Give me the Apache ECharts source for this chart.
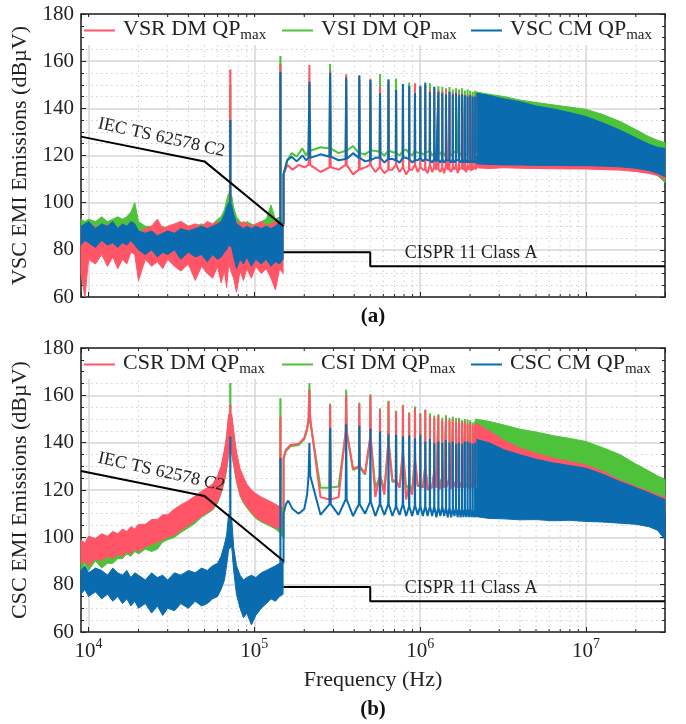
<!DOCTYPE html>
<html>
<head>
<meta charset="utf-8">
<script src="https://cdn.jsdelivr.net/npm/echarts@6.0.0/dist/echarts.min.js"></script>
<style>
html, body { margin: 0; padding: 0; background: #fff; }
#chart { width: 686px; height: 724px; }
</style>
</head>
<body>
<div id="chart"></div>
<script>
const FONT = 'Liberation Serif';
const INK = '#222';
const RED = '#ff5566';
const GREEN = '#4dc23a';
const BLUE = '#0a6caf';

// ---- frequencies in kHz ----
// envelope of the noisy spectrum below 150 kHz
const lowFreq = [9, 9.5, 10, 11, 12, 13, 14, 15, 16, 17, 18, 19, 20, 22, 24, 26, 28, 30, 33, 36,
    40, 44, 48, 52, 56, 60, 63, 66, 68, 70, 73, 75, 78, 82, 86, 90, 96, 102, 110, 118, 126, 134, 142, 149];
// dense harmonic band above ~2 MHz
const denseFreq = [2150, 2600, 3200, 4000, 5000, 6300, 8000, 10000, 12500, 16000, 20000, 24000, 27000, 30000];
// switching harmonics drawn one by one (150 kHz .. 2.15 MHz)
const fsw = 71.6;
const harmonicOrder = [3, 4, 5, 6, 7, 8, 9, 10, 11, 12, 13, 14, 15, 16, 17, 18, 19, 20, 21, 22,
    23, 24, 25, 26, 27, 28, 29, 30];
const spikeHalfWidth = 2.5;

// x minor grid / tick positions (Hz)
const xMinorTicks = [2e4, 3e4, 4e4, 5e4, 6e4, 7e4, 8e4, 9e4, 2e5, 3e5, 4e5, 5e5, 6e5, 7e5, 8e5, 9e5,
    2e6, 3e6, 4e6, 5e6, 6e6, 7e6, 8e6, 9e6, 2e7];

// limit lines
const iecFreq = [9, 50, 150];
const iecLimit = [128, 117.5, 90];
const cisprFreq = [150, 500, 500, 30000];
const cisprLimit = [79, 79, 73, 73];

// ===== (a) VSC =====
const vsrLo = [70, 60, 76, 74, 78, 73, 77, 72, 76, 74, 79, 78, 67, 76, 73, 75, 72, 76, 73, 71,
    74, 67, 73, 70, 68, 73, 66, 71, 64, 74, 70, 68, 62, 71, 67, 72, 68, 73, 70, 72, 68, 63, 72, 70];
const vsrHi = [90, 87, 89, 90, 89, 91, 88, 90, 89, 90, 88, 89, 87, 89, 90, 93, 89, 90, 91, 92,
    90, 91, 90, 92, 91, 92, 91, 93, 95, 97, 97, 94, 92, 91, 92, 91, 90, 91, 92, 90, 91, 92, 92, 90];
const vsiLo = [84, 83, 85, 84, 85, 84, 85, 84, 85, 84, 86, 86, 82, 81, 82, 80, 81, 80, 81, 80,
    81, 80, 81, 80, 81, 82, 82, 84, 86, 88, 88, 85, 81, 80, 79, 80, 79, 80, 79, 80, 79, 80, 80, 80];
const vsiHi = [93, 92, 93, 92, 94, 92, 93, 94, 93, 94, 96, 100, 92, 90, 90, 89, 90, 89, 90, 92,
    90, 90, 91, 90, 91, 93, 94, 97, 101, 104, 103, 98, 94, 92, 91, 92, 91, 90, 92, 93, 99, 93, 94, 91];
const vscLo = [82, 84, 83, 81, 84, 82, 83, 81, 83, 82, 84, 82, 80, 78, 80, 77, 79, 78, 80, 76,
    79, 77, 78, 75, 78, 76, 77, 79, 80, 82, 81, 77, 72, 76, 74, 77, 73, 76, 74, 76, 73, 75, 74, 76];
const vscHi = [90, 91, 92, 89, 91, 90, 92, 89, 91, 90, 92, 91, 88, 87, 88, 86, 87, 88, 87, 89,
    88, 89, 90, 89, 90, 91, 92, 95, 98, 100, 99, 95, 91, 90, 89, 90, 89, 90, 89, 90, 89, 90, 92, 91];

// [kHz, foot, top] of the 1st and 2nd harmonic
const vsrSpikes = [[71.6, 96, 156.5], [143.6, 91, 158.8]];
const vsiSpikes = [[71.6, 103, 150], [143.6, 93, 162.2]];
const vscSpikes = [[71.6, 99, 135], [143.6, 91, 155.5]];

const vsrStart = [[150, 90], [150, 112], [158, 116], [170, 114], [185, 116], [200, 115]];
const vsrPeak = [158.4, 156, 154.4, 154, 152.7, 149.2, 152, 148, 150, 149, 150.6, 149, 150, 148,
    148, 148, 147, 148, 147, 146.5, 147.5, 146, 146.5, 145, 146, 145.5, 144.5, 145.5];
const vsrBase = [116, 115, 116, 114, 116, 115, 114, 116, 115, 114, 116, 115, 114, 116, 115, 114,
    115, 116, 114, 115, 116, 114, 115, 114, 116, 115, 114, 115];
const vsrValley = [113, 114, 112, 115, 113, 112.5, 114, 113, 112, 114, 113, 114, 112.5, 113, 114,
    113, 112.5, 114, 113, 114, 112.5, 113.5, 114, 113, 114, 113.5, 114, 114];

const vsiStart = [[150, 92], [150, 112], [158, 118], [168, 121], [180, 119.5], [195, 123], [205, 120]];
const vsiPeak = [150, 158.8, 152, 152, 151, 154.6, 151, 152.7, 149, 151, 149, 149, 150, 150.6,
    149, 149.5, 149, 148.5, 149, 148, 148.5, 148, 148.5, 147.5, 148, 147.5, 147, 147.5];
const vsiBase = [122, 123, 122, 121, 122, 121.5, 122, 121, 122, 121, 122, 121.5, 121, 122, 121,
    121.5, 122, 121, 121.5, 121, 122, 121, 121.5, 121, 121, 121.5, 121, 121];
const vsiValley = [123.5, 121, 124, 120.5, 122, 120, 121.5, 120, 122.5, 120, 121, 120.5, 121.5,
    120, 121, 120.5, 120, 121, 120, 120.5, 121, 120, 120.5, 120, 120.5, 120, 120, 120];

const vscStart = [[150, 91], [150, 112], [158, 118], [168, 119.5], [180, 117.5], [195, 120], [205, 118]];
const vscPeak = [151.3, 155.1, 153.1, 153.9, 152, 146.4, 152.3, 147.8, 150.3, 149.6, 146.4, 149.6,
    151, 147, 149.2, 147, 146.5, 146, 147, 146, 146.5, 145.5, 146, 145.5, 145, 145.5, 145, 145];
const vscBase = [119, 119.5, 118.5, 119, 118, 119, 118.5, 118, 119, 118.5, 118, 119, 118.5, 118,
    118.5, 118, 118.5, 118, 118, 118.5, 118, 118, 118, 118.5, 118, 118, 118, 118];
const vscValley = [120.5, 118, 121, 117.5, 119, 117, 118.5, 117, 119, 117, 118, 117.5, 118, 117,
    117.5, 117, 117, 117.5, 117, 117, 117.5, 117, 117, 117, 117, 117, 117, 117];

const vsiDenseLo = [118.5, 118, 118, 117.5, 117.5, 117.5, 117.5, 117, 117, 116.5, 115.5, 114, 111.5, 108.5];
const vsiDenseHi = [147, 146, 145, 143.5, 142.5, 141.5, 140.5, 139.6, 137.5, 134.5, 131, 128, 126.5, 125.5];
const vsrDenseLo = [114.8, 114.5, 114.8, 114.6, 114.5, 114.4, 114.3, 114.3, 114, 113.8, 113.2, 112.4, 111.5, 110];
const vsrDenseHi = [146, 145, 143.5, 142, 140.5, 139.5, 138, 136, 133.5, 130.5, 127, 124.5, 123, 122];
const vscDenseLo = [116.5, 116.2, 116, 116, 115.8, 115.8, 115.7, 115.7, 115.5, 115.2, 114.6, 113.6, 112.5, 111];
const vscDenseHi = [146.5, 145.5, 144, 142.8, 141, 139.8, 138.2, 136.5, 134, 130.8, 127.5, 124.8, 123.5, 123];

// ===== (b) CSC =====
const csrLo = [89, 90, 88, 91, 90, 92, 91, 93, 92, 94, 93, 95, 94, 96, 97, 98, 99, 100, 101, 103,
    105, 107, 109, 110.5, 112, 115, 119, 124, 129, 136, 136, 131, 124, 118, 115, 113, 110.5, 108.5, 107, 106, 105, 104, 103.5, 103];
const csrHi = [99, 97.5, 100.5, 99.5, 101.5, 100.5, 102.5, 101.5, 103.5, 102.5, 104.5, 103.5, 105.5, 105.5, 107.5, 107.5, 109.5, 109.5, 112, 113.7,
    115.5, 117.5, 119.5, 121, 122.5, 126, 130, 137, 143, 152, 152, 145, 136, 129, 125.5, 122.5, 120, 118.5, 117, 116, 115, 114, 113, 112.5];
const csiLo = [86, 89, 86, 90, 87, 89, 89, 91, 91, 93, 92, 94, 93, 95, 94, 95, 98, 99, 100, 102,
    104, 106, 108.5, 110, 111.5, 114.5, 118.5, 123.5, 128.5, 135.5, 135.5, 130.5, 123.5, 117.5, 114.5, 112.5, 110, 108, 106.5, 105.5, 104.5, 103.5, 102, 100];
const csiHi = [98, 97, 99, 99, 100, 100, 101, 101, 102, 102, 103, 103, 104, 105, 106, 107, 108, 109, 111, 112.5,
    114.5, 116.5, 118.5, 120, 121.5, 125, 129, 136, 142, 151, 151, 144, 135, 128, 124.5, 121.5, 119, 117.5, 116, 115, 114, 113, 112, 111.5];
const cscLo = [76, 78, 75, 77, 74, 76, 73, 75, 72, 74, 71, 73, 70, 72, 68, 71, 67, 70, 69, 72,
    70, 73, 71, 72, 74, 75, 78, 82, 88, 95, 96, 86, 76, 70, 66, 68, 63, 67, 70, 72, 74, 73, 75, 76];
const cscHi = [86, 88, 85, 87, 86, 84, 87, 85, 84, 86, 83, 85, 84, 82, 85, 83, 84, 82, 85, 84,
    86, 85, 87, 86, 88, 89, 92, 97, 101, 110, 108, 96, 88, 84, 82, 83, 84, 83, 85, 86, 87, 88, 89, 90];

const csrSpikes = [[71.6, 150, 156], [143.6, 112, 151]];
const csiSpikes = [[71.6, 150, 165.2], [143.6, 111, 158.8]];
const cscSpikes = [[71.6, 108, 142.6], [143.6, 89, 133.5]];

const csrStart = [[150, 112.5], [150, 133.7], [155, 137], [165, 139], [185, 139.5], [200, 142], [208, 146]];
const csrPeak = [162.4, 156, 160.2, 156.3, 159.8, 153.9, 157.4, 152.9, 155.5, 152.2, 154.5, 152,
    153.9, 151.3, 150.6, 151.5, 149.2, 150.5, 149.5, 150, 149, 149.5, 148.5, 149, 148, 148.5, 147.5, 148];
const csrBase = [150, 116, 145, 130, 142, 126, 140, 124, 136, 122, 133, 122, 130, 121, 128, 121.5,
    126, 121, 125, 121, 124, 121, 123.5, 121, 123, 121, 122.5, 121.5];
const csrValley = [117, 117, 129, 127, 117, 118, 124, 121, 116, 118, 122, 121, 120, 121, 121, 120.5,
    121, 121, 120.5, 121, 121, 120.5, 121, 121, 120.5, 121, 121, 121];

const csiStart = [[150, 100], [150, 133], [155, 136.5], [165, 138.5], [185, 139], [200, 141.5], [208, 145.5]];
const csiPeak = [165.2, 156.5, 162.4, 157, 160.5, 154.5, 157.7, 153.5, 156, 152.8, 155.3, 152.5,
    153.9, 152.4, 151.5, 152, 150.5, 151.6, 150.5, 151, 150.4, 150.5, 149.5, 150, 149.8, 149.5, 148.5, 149];
const csiBase = [149, 121, 144, 129.5, 141, 125.5, 139, 123.5, 135, 122, 132, 122, 129, 121.5, 127,
    121.5, 125, 121, 124, 121, 123, 121, 122.5, 121, 122, 121, 122, 121.5];
const csiValley = [121, 121.5, 128.5, 126.5, 121, 120.5, 123.5, 121, 121, 120.5, 121.5, 121, 120.5,
    121, 121, 121, 121, 121, 121, 121, 121, 121, 121, 121, 121, 121, 121, 121];

const cscStart = [[150, 89], [150, 110], [155, 114], [160, 115.5], [170, 112], [185, 110], [200, 112], [208, 118]];
const cscPeak = [139.8, 146.2, 147.8, 147.1, 145.9, 144.7, 143.6, 143.3, 142.6, 143, 141.9, 143.3,
    140.5, 141.5, 139.8, 140.5, 140, 141, 140, 140.5, 139.5, 140, 139.5, 140.5, 140.5, 140, 139.5, 140];
const cscBase = [126, 114, 116, 114, 115, 114, 114, 113, 114, 113, 113.5, 113, 113, 113, 113, 112.5,
    113, 112.5, 112.5, 112, 112.5, 112, 112, 112, 112, 112, 111.5, 111.5];
const cscValley = [109.5, 109.5, 109, 110, 109, 109.5, 109, 109.5, 109, 109, 109.5, 109, 109, 109,
    108.5, 109, 109, 108.5, 108.5, 109, 108.5, 108.5, 108.5, 108.5, 108.5, 108.5, 108.5, 108.5];

const csiDenseLo = [120, 120, 119.5, 119.5, 119, 119, 118.5, 118.5, 118, 117.5, 117, 116, 115, 113];
const csiDenseHi = [150, 149, 147.5, 145.7, 144.5, 143, 141.8, 140.5, 138, 135, 131, 128, 126, 124.5];
const csrDenseLo = [117, 116.5, 116, 116, 115.5, 115.5, 115, 115, 114.5, 114, 113.5, 113, 112, 110];
const csrDenseHi = [148.5, 145, 141, 137.7, 135.5, 133.5, 132, 130.6, 128, 124.3, 121.5, 119.5, 118, 117];
const cscDenseLo = [108.8, 108, 107.8, 107.4, 107.5, 107, 107.2, 106.7, 106.5, 106, 105.5, 104.5, 103, 99];
const cscDenseHi = [141.5, 140, 137, 134.9, 133, 131.5, 130.3, 129.2, 126.8, 123.6, 121, 118.8, 117.3, 116];

// drawing order: green first, red over it, blue on top
const panels = [
    {
        yName: 'VSC EMI Emissions (dBµV)',
        traces: [
            { name: 'VSI DM QP', color: GREEN, lo: vsiLo, hi: vsiHi, spikes: vsiSpikes, start: vsiStart,
              peak: vsiPeak, base: vsiBase, valley: vsiValley, denseLo: vsiDenseLo, denseHi: vsiDenseHi },
            { name: 'VSR DM QP', color: RED, lo: vsrLo, hi: vsrHi, spikes: vsrSpikes, start: vsrStart,
              peak: vsrPeak, base: vsrBase, valley: vsrValley, denseLo: vsrDenseLo, denseHi: vsrDenseHi },
            { name: 'VSC CM QP', color: BLUE, lo: vscLo, hi: vscHi, spikes: vscSpikes, start: vscStart,
              peak: vscPeak, base: vscBase, valley: vscValley, denseLo: vscDenseLo, denseHi: vscDenseHi }
        ],
        legend: ['VSR DM QP', 'VSI DM QP', 'VSC CM QP']
    },
    {
        yName: 'CSC EMI Emissions (dBµV)',
        traces: [
            { name: 'CSI DM QP', color: GREEN, lo: csiLo, hi: csiHi, spikes: csiSpikes, start: csiStart,
              peak: csiPeak, base: csiBase, valley: csiValley, denseLo: csiDenseLo, denseHi: csiDenseHi },
            { name: 'CSR DM QP', color: RED, lo: csrLo, hi: csrHi, spikes: csrSpikes, start: csrStart,
              peak: csrPeak, base: csrBase, valley: csrValley, denseLo: csrDenseLo, denseHi: csrDenseHi },
            { name: 'CSC CM QP', color: BLUE, lo: cscLo, hi: cscHi, spikes: cscSpikes, start: cscStart,
              peak: cscPeak, base: cscBase, valley: cscValley, denseLo: cscDenseLo, denseHi: cscDenseHi }
        ],
        legend: ['CSR DM QP', 'CSI DM QP', 'CSC CM QP']
    }
];

const grids = [
    { left: 81, top: 14, width: 584, height: 283 },
    { left: 81, top: 348, width: 584, height: 284 }
];

// filled envelope between lo and hi, drawn as one polygon
function bandSeries(name, color, freqs, lo, hi, g) {
    const rows = freqs.map((f, i) => [f * 1e3, lo[i], hi[i]]);
    return {
        type: 'custom', name: name, xAxisIndex: 2 * g, yAxisIndex: 2 * g,
        silent: true, itemStyle: { color: color },
        encode: { x: 0, y: [1, 2] },
        data: rows,
        renderItem: function (params, api) {
            if (params.dataIndex !== 0) return null;
            const pts = [];
            rows.forEach(r => pts.push(api.coord([r[0], r[1]])));
            for (let i = rows.length - 1; i >= 0; i--) pts.push(api.coord([rows[i][0], rows[i][2]]));
            return {
                type: 'polygon', shape: { points: pts },
                style: { fill: color, stroke: color, lineWidth: 1 }
            };
        }
    };
}

function spikeSeries(name, color, rows, g) {
    return {
        type: 'custom', name: name, xAxisIndex: 2 * g, yAxisIndex: 2 * g,
        silent: true, itemStyle: { color: color },
        encode: { x: 0, y: [1, 2] },
        data: rows.map(r => [r[0] * 1e3, r[1], r[2]]),
        renderItem: function (params, api) {
            const a = api.coord([api.value(0), api.value(1)]);
            const b = api.coord([api.value(0), api.value(2)]);
            return {
                type: 'line', shape: { x1: a[0], y1: a[1], x2: b[0], y2: b[1] },
                style: { stroke: color, lineWidth: 2.2 }
            };
        }
    };
}

function harmonicSeries(t, g) {
    const pts = t.start.map(p => [p[0] * 1e3, p[1]]);
    harmonicOrder.forEach((n, i) => {
        const f = n * fsw;
        pts.push([(f - spikeHalfWidth) * 1e3, t.base[i]]);
        pts.push([f * 1e3, t.peak[i]]);
        pts.push([(f + spikeHalfWidth) * 1e3, t.base[i]]);
        pts.push([(f + fsw / 2) * 1e3, t.valley[i]]);
    });
    return {
        type: 'line', name: t.name, xAxisIndex: 2 * g, yAxisIndex: 2 * g,
        silent: true, showSymbol: false, symbol: 'none',
        itemStyle: { color: t.color },
        lineStyle: { color: t.color, width: 2 },
        data: pts
    };
}

function minorGridSeries(g) {
    return {
        type: 'custom', name: 'minor-x-' + g, xAxisIndex: 2 * g, yAxisIndex: 2 * g,
        silent: true, z: 1,
        data: xMinorTicks.map(f => [f]),
        renderItem: function (params, api) {
            const f = api.value(0);
            const top = api.coord([f, 180]);
            const bot = api.coord([f, 60]);
            return {
                type: 'group',
                children: [
                    { type: 'line', shape: { x1: bot[0], y1: bot[1], x2: top[0], y2: top[1] },
                      style: { stroke: '#cccccc', lineWidth: 1, lineDash: [1.5, 3.5] } },
                    { type: 'line', shape: { x1: bot[0], y1: bot[1], x2: bot[0], y2: bot[1] - 3 },
                      style: { stroke: INK, lineWidth: 1 } },
                    { type: 'line', shape: { x1: top[0], y1: top[1], x2: top[0], y2: top[1] + 3 },
                      style: { stroke: INK, lineWidth: 1 } }
                ]
            };
        }
    };
}

function limitSeries(g) {
    const black = { color: '#000', width: 2 };
    return [
        { type: 'line', name: 'iec-' + g, xAxisIndex: 2 * g, yAxisIndex: 2 * g, silent: true, z: 4,
          showSymbol: false, symbol: 'none', lineStyle: black, itemStyle: { color: '#000' },
          data: iecFreq.map((f, i) => [f * 1e3, iecLimit[i]]) },
        { type: 'line', name: 'cispr-' + g, xAxisIndex: 2 * g, yAxisIndex: 2 * g, silent: true, z: 4,
          showSymbol: false, symbol: 'none', lineStyle: black, itemStyle: { color: '#000' },
          data: cisprFreq.map((f, i) => [f * 1e3, cisprLimit[i]]) }
    ];
}

const series = [];
panels.forEach((p, g) => {
    series.push(minorGridSeries(g));
    p.traces.forEach(t => {
        series.push(bandSeries(t.name, t.color, lowFreq, t.lo, t.hi, g));
        series.push(spikeSeries(t.name, t.color, t.spikes, g));
        series.push(harmonicSeries(t, g));
        series.push(bandSeries(t.name, t.color, denseFreq, t.denseLo, t.denseHi, g));
    });
    limitSeries(g).forEach(s => series.push(s));
});

const xAxes = [];
const yAxes = [];
grids.forEach((gr, g) => {
    const last = g === 1;
    xAxes.push({
        gridIndex: g, type: 'log', logBase: 10, min: 9000, max: 3e7, position: 'bottom',
        axisLine: { show: true, onZero: false, lineStyle: { color: INK, width: 1.5 } },
        axisTick: { show: true, inside: true, length: 5, lineStyle: { color: INK, width: 1 } },
        splitLine: { show: true, lineStyle: { color: '#d6d6d6', width: 1.5 } },
        axisLabel: {
            show: last, margin: 5, showMinLabel: false, showMaxLabel: false,
            formatter: v => '{b|10}{e|' + Math.round(Math.log10(v)) + '}',
            rich: {
                b: { fontFamily: FONT, fontSize: 21, color: INK, verticalAlign: 'top', padding: [4, 0, 0, 0] },
                e: { fontFamily: FONT, fontSize: 14, color: INK, verticalAlign: 'top' }
            }
        }
    });
    xAxes.push({
        gridIndex: g, type: 'log', logBase: 10, min: 9000, max: 3e7, position: 'top',
        axisLine: { show: true, onZero: false, lineStyle: { color: INK, width: 1.5 } },
        axisTick: { show: true, inside: true, length: 5, lineStyle: { color: INK, width: 1 } },
        splitLine: { show: false }, axisLabel: { show: false }
    });
    yAxes.push({
        gridIndex: g, type: 'value', min: 60, max: 180, interval: 20, position: 'left',
        axisLine: { show: true, onZero: false, lineStyle: { color: INK, width: 1.5 } },
        axisTick: { show: true, inside: true, length: 5, lineStyle: { color: INK, width: 1 } },
        minorTick: { show: true, splitNumber: 4, length: 3, lineStyle: { color: INK, width: 1 } },
        splitLine: { show: true, lineStyle: { color: '#d6d6d6', width: 1.5 } },
        minorSplitLine: { show: true, lineStyle: { color: '#cccccc', width: 1, type: [1.5, 3.5] } },
        axisLabel: { margin: 7, fontFamily: FONT, fontSize: 21, color: INK },
        name: panels[g].yName, nameLocation: 'middle', nameGap: 44,
        nameTextStyle: { fontFamily: FONT, fontSize: 22, color: INK }
    });
    yAxes.push({
        gridIndex: g, type: 'value', min: 60, max: 180, interval: 20, position: 'right',
        axisLine: { show: true, onZero: false, lineStyle: { color: INK, width: 1.5 } },
        axisTick: { show: true, inside: true, length: 5, lineStyle: { color: INK, width: 1 } },
        minorTick: { show: true, splitNumber: 4, length: 3, lineStyle: { color: INK, width: 1 } },
        splitLine: { show: false }, axisLabel: { show: false }
    });
});

const legendLeft = [84, 282, 471];
const legendTop = [18, 352];
const legends = [];
panels.forEach((p, g) => {
    p.legend.forEach((name, k) => {
        legends.push({
            data: [name], left: legendLeft[k], top: legendTop[g], padding: 0, itemGap: 0,
            icon: 'rect', itemWidth: 31, itemHeight: 2, selectedMode: false, z: 6,
            formatter: n => '{a|' + n + '}{s|max}',
            textStyle: {
                fontFamily: FONT, color: INK,
                rich: {
                    a: { fontFamily: FONT, fontSize: 22, color: INK, verticalAlign: 'bottom', padding: [0, 0, 3, 3] },
                    s: { fontFamily: FONT, fontSize: 15, color: INK, verticalAlign: 'bottom' }
                }
            }
        });
    });
});

const chart = echarts.init(document.getElementById('chart'), null, { renderer: 'canvas' });
chart.setOption({
    animation: false,
    backgroundColor: '#fff',
    textStyle: { fontFamily: FONT },
    grid: grids.map(gr => Object.assign({ outerBoundsMode: 'none', containLabel: false }, gr)),
    xAxis: xAxes,
    yAxis: yAxes,
    legend: legends,
    series: series
});

// annotations placed through the axis scales
const labelStyle = { font: '18px "' + FONT + '"', fill: INK };
const graphics = [];
grids.forEach((gr, g) => {
    const axes = { xAxisIndex: 2 * g, yAxisIndex: 2 * g };
    graphics.push({
        type: 'rect', z: 3, silent: true,
        shape: { x: gr.left + 3, y: gr.top + 3, width: gr.width - 6, height: 28 },
        style: { fill: '#fff' }
    });
    const iec = chart.convertToPixel(axes, [27500, 127.6]);
    graphics.push({
        type: 'text', z: 7, silent: true, x: iec[0], y: iec[1], rotation: -0.22,
        style: Object.assign({ text: 'IEC TS 62578 C2', align: 'center', verticalAlign: 'middle',
            textAlign: 'center', textVerticalAlign: 'middle' }, labelStyle)
    });
    const cis = chart.convertToPixel(axes, [2.03e6, 78.4]);
    graphics.push({
        type: 'text', z: 7, silent: true, x: cis[0], y: cis[1],
        style: Object.assign({ text: 'CISPR 11 Class A', align: 'center', verticalAlign: 'middle',
            textAlign: 'center', textVerticalAlign: 'middle' }, labelStyle)
    });
    graphics.push({
        type: 'text', z: 7, silent: true, x: gr.left + gr.width / 2, y: g === 0 ? 317 : 710,
        style: { text: g === 0 ? '(a)' : '(b)', font: 'bold 21px "' + FONT + '"', fill: '#111',
            align: 'center', verticalAlign: 'middle', textAlign: 'center', textVerticalAlign: 'middle' }
    });
});
// x-axis title under the lower panel
graphics.push({
    type: 'text', z: 7, silent: true, x: grids[1].left + grids[1].width / 2, y: 680,
    style: { text: 'Frequency (Hz)', font: '22px "' + FONT + '"', fill: INK,
        align: 'center', verticalAlign: 'middle', textAlign: 'center', textVerticalAlign: 'middle' }
});
chart.setOption({ graphic: graphics });
</script>
</body>
</html>
